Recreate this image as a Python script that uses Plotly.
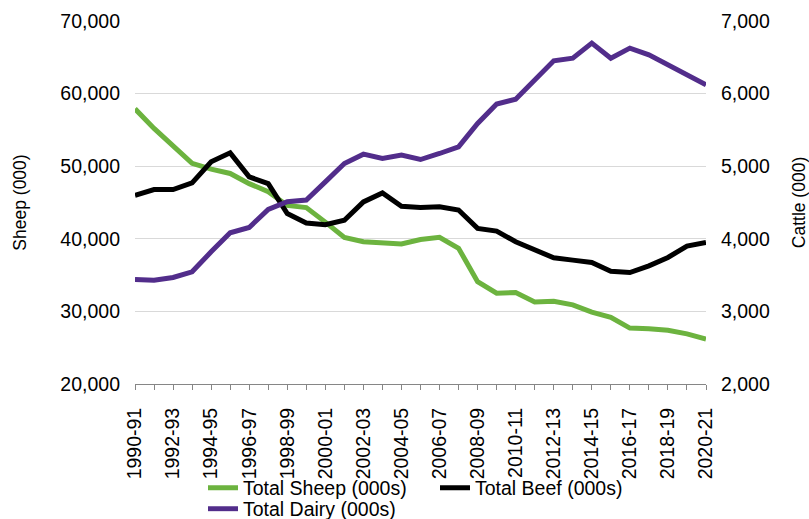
import plotly.graph_objects as go

years = [f"{y}-{str(y + 1)[-2:]}" for y in range(1990, 2021)]

sheep = [57900, 55200, 52800, 50400, 49600, 49000, 47600, 46500, 44600, 44300,
         42300, 40200, 39600, 39500, 39300, 39900, 40200, 38700, 34100, 32500,
         32600, 31300, 31400, 30900, 29900, 29200, 27700, 27600, 27400, 26900, 26200]
beef = [4600, 4678, 4678, 4770, 5060, 5184, 4853, 4761, 4347, 4218,
        4195, 4255, 4508, 4632, 4448, 4430, 4440, 4396, 4143, 4106,
        3959, 3853, 3738, 3706, 3674, 3554, 3536, 3628, 3743, 3899, 3950]
dairy = [3439, 3430, 3467, 3545, 3821, 4083, 4156, 4405, 4510, 4534,
         4784, 5037, 5166, 5106, 5152, 5092, 5175, 5267, 5589, 5857,
         5922, 6189, 6451, 6488, 6695, 6488, 6626, 6534, 6396, 6272, 6120]

tick_text = [y if i % 2 == 0 else "" for i, y in enumerate(years)]

GREEN = "#6CB33F"
PURPLE = "#522D8B"
BLACK = "#000000"
FONT = "Liberation Sans, Arial, sans-serif"

fig = go.Figure()
fig.add_trace(go.Scatter(x=years, y=sheep, name="Total Sheep (000s)", mode="lines",
                         line=dict(color=GREEN, width=5), yaxis="y", legend="legend"))
fig.add_trace(go.Scatter(x=years, y=beef, name="Total Beef (000s)", mode="lines",
                         line=dict(color=BLACK, width=5), yaxis="y2", legend="legend"))
fig.add_trace(go.Scatter(x=years, y=dairy, name="Total Dairy (000s)", mode="lines",
                         line=dict(color=PURPLE, width=5), yaxis="y2", legend="legend2"))

fig.update_layout(
    width=809, height=519,
    margin=dict(l=135, r=103, t=21, b=135, autoexpand=False),
    paper_bgcolor="white", plot_bgcolor="white",
    font=dict(family=FONT, color="#000000", size=19.5),
    xaxis=dict(
        type="category", range=[0, len(years) - 1], automargin=False,
        tickmode="array", tickvals=years, ticktext=tick_text,
        tickangle=-90, ticks="outside", ticklen=5, tickcolor="#868686",
        showline=True, linecolor="#868686", linewidth=1,
        showgrid=False, zeroline=False,
        tickfont=dict(size=19.5), ticklabelstandoff=10,
    ),
    yaxis=dict(
        range=[20000, 70000], dtick=10000, tickformat=",", automargin=False,
        showgrid=True, gridcolor="#D9D9D9", gridwidth=1,
        zeroline=False, showline=False, ticks="",
        tickfont=dict(size=19.5), ticklabelstandoff=14,
        title=dict(text="Sheep (000)", font=dict(size=17.5), standoff=29),
    ),
    yaxis2=dict(
        range=[2000, 7000], dtick=1000, tickformat=",", automargin=False,
        overlaying="y", side="right",
        showgrid=False, zeroline=False, showline=False, ticks="",
        tickfont=dict(size=19.5), ticklabelstandoff=14,
        title=dict(text="Cattle (000)", font=dict(size=17.5), standoff=26),
    ),
    legend=dict(
        orientation="h", xref="container", yref="container",
        x=203 / 809, xanchor="left", y=1 - 488 / 519, yanchor="middle",
        font=dict(size=19.5), bgcolor="rgba(0,0,0,0)", borderwidth=0,
        traceorder="normal", entrywidth=187, entrywidthmode="pixels",
    ),
    legend2=dict(
        orientation="h", xref="container", yref="container",
        x=203 / 809, xanchor="left", y=1 - 509 / 519, yanchor="middle",
        font=dict(size=19.5), bgcolor="rgba(0,0,0,0)", borderwidth=0,
    ),
)

fig.write_html("out.html")
